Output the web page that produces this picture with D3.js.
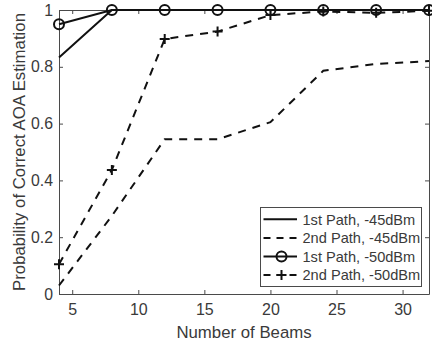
<!DOCTYPE html>
<head>
    <meta charset="utf-8">
    <style>
        body { margin: 0; background: white; }
        text { font-family: "Liberation Sans", Arial, sans-serif; fill: #3a3a3a; }
        .domain, .tick line { stroke: #4a4a4a; }
    </style>
</head>
<body>
<script src="https://cdn.jsdelivr.net/npm/d3@7"></script>
<script>

const width = 432;
const height = 348;
const margin = {left: 59, right: 2, top: 10, bottom: 54};

// data
const beams = [4, 8, 12, 16, 20, 24, 28, 32];
const path1_45 = [0.833, 1, 1, 1, 1, 1, 1, 1];
const path2_45 = [0.03, 0.275, 0.545, 0.545, 0.605, 0.786, 0.81, 0.82];
const path1_50 = [0.95, 1, 1, 1, 1, 1, 1, 1];
const path2_50 = [0.105, 0.437, 0.898, 0.924, 0.982, 0.995, 0.99, 0.997];
const xTicks = [5, 10, 15, 20, 25, 30];
const yTicks = [0, 0.2, 0.4, 0.6, 0.8, 1];
const legendLabels = ['1st Path, -45dBm', '2nd Path, -45dBm', '1st Path, -50dBm', '2nd Path, -50dBm'];

const series = [
    {name: legendLabels[0], values: path1_45, dash: null, marker: null},
    {name: legendLabels[1], values: path2_45, dash: '8,7', marker: null},
    {name: legendLabels[2], values: path1_50, dash: null, marker: 'circle'},
    {name: legendLabels[3], values: path2_50, dash: '8,7', marker: 'plus'}
];

const svg = d3.select('body').append('svg')
    .attr('width', width)
    .attr('height', height);

const x = d3.scaleLinear().domain([4, 32]).range([margin.left, width - margin.right - 1]);
const y = d3.scaleLinear().domain([0, 1]).range([height - margin.bottom, margin.top]);

const x0 = x.range()[0], x1 = x.range()[1];
const y0 = y.range()[0], y1 = y.range()[1];

// axes (ticks inside, box on)
svg.append('g')
    .attr('transform', `translate(0, ${y0})`)
    .call(d3.axisBottom(x).tickValues(xTicks).tickSizeInner(-4).tickSizeOuter(0).tickPadding(10))
    .call(g => g.selectAll('text').style('font-size', '16px'));

svg.append('g')
    .attr('transform', `translate(0, ${y1})`)
    .call(d3.axisTop(x).tickValues(xTicks).tickSizeInner(-4).tickSizeOuter(0).tickFormat(''));

svg.append('g')
    .attr('transform', `translate(${x0}, 0)`)
    .call(d3.axisLeft(y).tickValues(yTicks).tickSizeInner(-4).tickSizeOuter(0).tickPadding(6).tickFormat(d => String(d)))
    .call(g => g.selectAll('text').style('font-size', '15.8px'));

svg.append('g')
    .attr('transform', `translate(${x1}, 0)`)
    .call(d3.axisRight(y).tickValues(yTicks).tickSizeInner(-4).tickSizeOuter(0).tickFormat(''));

// axis labels
svg.append('text')
    .attr('x', (x0 + x1) / 2)
    .attr('y', 338)
    .attr('text-anchor', 'middle')
    .style('font-size', '16.8px')
    .text('Number of Beams');

svg.append('text')
    .attr('transform', `translate(25, ${(y0 + y1) / 2}) rotate(-90)`)
    .attr('text-anchor', 'middle')
    .style('font-size', '16.8px')
    .text('Probability of Correct AOA Estimation');

// lines
const line = d3.line()
    .x((d, i) => x(beams[i]))
    .y(d => y(d));

const plot = svg.append('g');

const drawMarker = (g, kind, cx, cy) => {
    if (kind === 'circle') {
        g.append('circle')
            .attr('cx', cx).attr('cy', cy).attr('r', 5)
            .attr('fill', 'none').attr('stroke', '#111').attr('stroke-width', 2);
    } else if (kind === 'plus') {
        g.append('path')
            .attr('d', `M${cx - 5},${cy}H${cx + 5}M${cx},${cy - 5}V${cy + 5}`)
            .attr('stroke', '#111').attr('stroke-width', 2);
    }
};

series.forEach(s => {
    plot.append('path')
        .datum(s.values)
        .attr('d', line)
        .attr('fill', 'none')
        .attr('stroke', '#111')
        .attr('stroke-width', 2)
        .attr('stroke-dasharray', s.dash);
    if (s.marker) {
        s.values.forEach((v, i) => drawMarker(plot, s.marker, x(beams[i]), y(v)));
    }
});

// legend
const lg = svg.append('g');
lg.append('rect')
    .attr('x', 260.5).attr('y', 207.5)
    .attr('width', 161).attr('height', 79)
    .attr('fill', 'white')
    .attr('stroke', '#4a4a4a');

series.forEach((s, i) => {
    const ly = 219.3 + i * 18.6;
    lg.append('line')
        .attr('x1', 263.5).attr('x2', 297)
        .attr('y1', ly).attr('y2', ly)
        .attr('stroke', '#111')
        .attr('stroke-width', 2)
        .attr('stroke-dasharray', s.dash ? '7,6' : null);
    if (s.marker) drawMarker(lg, s.marker, 281.5, ly);
    lg.append('text')
        .attr('x', 302.5)
        .attr('y', ly + 5.3)
        .style('font-size', '14.6px')
        .text(s.name);
});

</script>
</body>
</html>
